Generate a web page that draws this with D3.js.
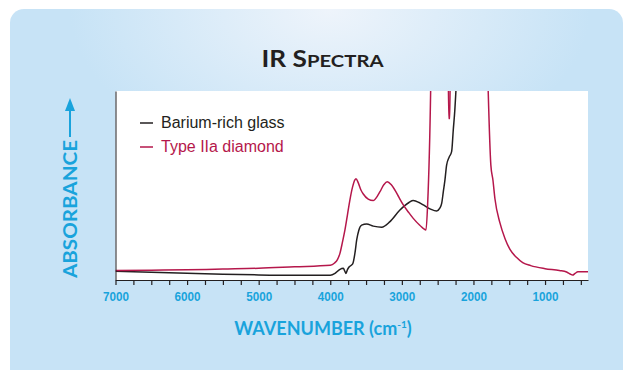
<!DOCTYPE html>
<html>
<head>
<meta charset="utf-8">
<script src="https://cdn.jsdelivr.net/npm/d3@7"></script>
<style>
  body { margin: 0; background: #fff; }
  svg { display: block; }
</style>
</head>
<body>
<svg width="626" height="370"></svg>
<script>
// absorbance spectra (arbitrary units, 0 = axis, 1 = top of plot)
var glassWn  = [7000, 6500, 6000, 5500, 5000, 4500, 4000, 3934, 3870, 3818, 3795, 3781, 3760, 3735, 3687, 3655, 3631, 3600, 3562, 3492, 3400, 3282, 3166, 3027, 2900, 2841, 2760, 2701, 2600, 2514, 2470, 2444, 2420, 2398, 2375, 2340, 2305, 2282, 2260, 2245, 2230];
var glassAbs = [0.046, 0.041, 0.036, 0.031, 0.027, 0.025, 0.025, 0.035, 0.055, 0.062, 0.045, 0.035, 0.055, 0.07, 0.085, 0.143, 0.212, 0.265, 0.29, 0.296, 0.285, 0.279, 0.309, 0.37, 0.41, 0.42, 0.41, 0.397, 0.375, 0.365, 0.38, 0.405, 0.47, 0.53, 0.608, 0.65, 0.679, 0.794, 0.9, 1.0, 1.1];

var diamondWn  = [7000, 6500, 6000, 5500, 5000, 4500, 4000, 3940, 3900, 3865, 3830, 3795, 3760, 3726, 3690, 3656, 3641, 3610, 3570, 3539, 3470, 3400, 3340, 3306, 3250, 3204, 3150, 3097, 3040, 2980, 2900, 2841, 2750, 2663, 2640, 2598, 2580, 2360, 2345, 2330, 2318, 1820, 1794, 1757, 1728, 1700, 1630, 1560, 1490, 1400, 1312, 1200, 1000, 800, 699, 650, 615, 580, 541, 400];
var diamondAbs = [0.05, 0.052, 0.054, 0.058, 0.062, 0.07, 0.078, 0.09, 0.108, 0.141, 0.2, 0.265, 0.345, 0.423, 0.49, 0.53, 0.536, 0.515, 0.475, 0.455, 0.428, 0.42, 0.445, 0.467, 0.505, 0.52, 0.505, 0.476, 0.437, 0.397, 0.355, 0.326, 0.29, 0.265, 0.4, 1.0, 1.5, 1.4, 0.854, 0.854, 1.4, 1.4, 1.0, 0.608, 0.529, 0.43, 0.302, 0.22, 0.162, 0.12, 0.092, 0.076, 0.06, 0.05, 0.042, 0.032, 0.026, 0.035, 0.044, 0.044];

var xTicks = d3.range(7000, 400, -250);
var xLabels = [7000, 6000, 5000, 4000, 3000, 2000, 1000];

var seriesNames = ["Barium-rich glass", "Type IIa diamond"];
var seriesColors = ["#231f20", "#b5174b"];

var blue = "#19a3dc";

var svg = d3.select("svg");

var defs = svg.append("defs");
var grad = defs.append("radialGradient")
    .attr("id", "bg")
    .attr("gradientUnits", "userSpaceOnUse")
    .attr("cx", 330).attr("cy", 10).attr("r", 260)
    .attr("gradientTransform", "translate(330,10) scale(1,0.6) translate(-330,-10)");
grad.append("stop").attr("offset", 0).attr("stop-color", "#eef4fb");
grad.append("stop").attr("offset", 1).attr("stop-color", "#c7e3f6");

// panel
svg.append("rect")
    .attr("x", 10).attr("y", 9)
    .attr("width", 613).attr("height", 380)
    .attr("rx", 14)
    .attr("fill", "url(#bg)");

var x = d3.scaleLinear().domain([7000, 400]).range([115.5, 588]);
var y = d3.scaleLinear().domain([0, 1]).range([280, 91]);

defs.append("clipPath").attr("id", "plotclip")
  .append("rect")
    .attr("x", 115.5).attr("y", 91)
    .attr("width", 588 - 115.5).attr("height", 280 - 91);

svg.append("rect")
    .attr("x", 115.5).attr("y", 91)
    .attr("width", 588 - 115.5).attr("height", 280 - 91)
    .attr("fill", "#fff");

// title
var title = svg.append("text")
    .attr("x", 322.5).attr("y", 67)
    .attr("text-anchor", "middle")
    .attr("font-family", "Lato, 'Open Sans', sans-serif")
    .attr("font-weight", "bold")
    .attr("textLength", 122)
    .attr("lengthAdjust", "spacingAndGlyphs")
    .attr("fill", "#231f20");
title.append("tspan").attr("font-size", 22).text("IR S");
title.append("tspan").attr("font-size", 17).text("PECTRA");

var line = d3.line()
    .x(d => x(d[0]))
    .y(d => y(d[1]))
    .curve(d3.curveMonotoneX);

var plot = svg.append("g").attr("clip-path", "url(#plotclip)");

plot.append("path")
    .datum(glassWn.map((w, i) => [w, glassAbs[i]]))
    .attr("fill", "none")
    .attr("stroke", seriesColors[0])
    .attr("stroke-width", 1.5)
    .attr("d", line);

plot.append("path")
    .datum(diamondWn.map((w, i) => [w, diamondAbs[i]]))
    .attr("fill", "none")
    .attr("stroke", seriesColors[1])
    .attr("stroke-width", 1.5)
    .attr("d", line);

// axes
var xAxis = svg.append("g")
    .attr("transform", "translate(0,280)")
    .call(d3.axisBottom(x)
        .tickValues(xTicks)
        .tickSize(5)
        .tickSizeOuter(0)
        .tickFormat(d => xLabels.indexOf(d) >= 0 ? d : ""));
xAxis.select(".domain").attr("stroke", "#231f20");
xAxis.selectAll(".tick line").attr("stroke", "#231f20").attr("stroke-width", 1.2);
xAxis.selectAll(".tick text")
    .attr("y", 11)
    .attr("fill", blue)
    .attr("font-family", "'Liberation Sans', Arial, sans-serif")
    .attr("font-weight", "bold")
    .attr("font-size", 13.5)
    .filter(d => xLabels.indexOf(d) >= 0)
    .attr("textLength", 26)
    .attr("lengthAdjust", "spacingAndGlyphs");

var yAxis = svg.append("g")
    .attr("transform", "translate(115.5,0)")
    .call(d3.axisLeft(y).tickValues([]).tickSizeOuter(0));
yAxis.select(".domain").attr("stroke", "#231f20");

// axis titles
var xt = svg.append("text")
    .attr("x", 323).attr("y", 335)
    .attr("text-anchor", "middle")
    .attr("font-family", "Lato, 'Open Sans', sans-serif")
    .attr("font-weight", "bold")
    .attr("font-size", 18)
    .attr("fill", blue);
xt.append("tspan").text("WAVENUMBER (cm");
xt.append("tspan").attr("font-size", 10).attr("dy", -7).text("-1");
xt.append("tspan").attr("dy", 7).text(")");

svg.append("text")
    .attr("transform", "translate(77,278) rotate(-90)")
    .attr("font-family", "Lato, 'Open Sans', sans-serif")
    .attr("font-weight", "bold")
    .attr("font-size", 19)
    .attr("textLength", 138)
    .attr("lengthAdjust", "spacingAndGlyphs")
    .attr("fill", blue)
    .text("ABSORBANCE");

svg.append("line")
    .attr("x1", 70).attr("x2", 70)
    .attr("y1", 137).attr("y2", 108)
    .attr("stroke", blue).attr("stroke-width", 2);
svg.append("path")
    .attr("d", "M70,98 L75,111 L65,111 Z")
    .attr("fill", blue);

// legend
var legend = svg.append("g");
seriesNames.forEach(function (name, i) {
    var ly = 128 + i * 24;
    legend.append("line")
        .attr("x1", 140).attr("x2", 153)
        .attr("y1", ly - 5).attr("y2", ly - 5)
        .attr("stroke", seriesColors[i]).attr("stroke-width", 1.5);
    legend.append("text")
        .attr("x", 161).attr("y", ly)
        .attr("font-family", "'Liberation Sans', Arial, sans-serif")
        .attr("font-size", 16)
        .attr("fill", seriesColors[i])
        .text(name);
});
</script>
</body>
</html>
